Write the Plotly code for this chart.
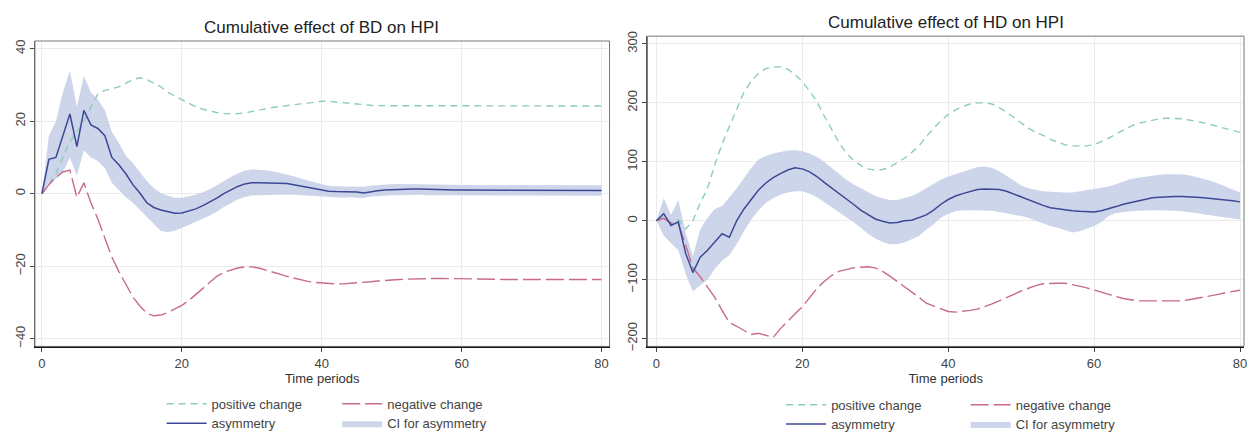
import plotly.graph_objects as go

W, H = 1253, 439

periods = list(range(81))

# ---------- Left panel: BD on HPI ----------
bd_positive = [0, 2.5, 5.5, 10, 14.5, 17, 20, 24, 27.5, 28.5,
               29, 29.5, 30.5, 31.5, 32, 31.5, 30.5, 29.5, 28, 27,
               26, 25, 24, 23.3, 22.8, 22.4, 22.1, 22, 22.1, 22.3,
               22.6, 23, 23.4, 23.8, 24.1, 24.4, 24.6, 24.8, 25, 25.3,
               25.5, 25.5, 25.3, 25, 24.8, 24.7, 24.5, 24.4, 24.3, 24.3,
               24.2, 24.2, 24.2, 24.2, 24.2, 24.2, 24.2, 24.2, 24.2, 24.2,
               24.2, 24.2, 24.2, 24.2, 24.2, 24.2, 24.2, 24.2, 24.2, 24.2,
               24.2, 24.2, 24.2, 24.2, 24.2, 24.2, 24.2, 24.2, 24.2, 24.2, 24.2]
bd_negative = [0, 2.5, 4.5, 6, 6.5, -1, 3, -2.5, -7, -12.5,
               -17.5, -21.5, -25, -28.5, -31, -33, -33.7, -33.5, -32.8, -31.8,
               -30.8, -29.5, -27.8, -26, -24.3, -22.8, -21.7, -21, -20.5, -20.2,
               -20.2, -20.5, -21, -21.6, -22.2, -22.8, -23.3, -23.8, -24.2, -24.5,
               -24.7, -24.8, -24.9, -24.9, -24.8, -24.7, -24.5, -24.3, -24.1, -23.9,
               -23.8, -23.7, -23.6, -23.5, -23.5, -23.4, -23.4, -23.4, -23.4, -23.5,
               -23.5, -23.5, -23.6, -23.6, -23.6, -23.6, -23.7, -23.7, -23.7, -23.7,
               -23.7, -23.7, -23.7, -23.7, -23.7, -23.7, -23.7, -23.7, -23.7, -23.7, -23.7]
bd_asymmetry = [0, 9.5, 10, 16, 22, 13, 23, 19, 18, 16,
                10, 8, 5.5, 2.5, 0.2, -2.5, -3.8, -4.5, -5, -5.4,
                -5.3, -4.8, -4.2, -3.3, -2.3, -1.2, 0, 1, 2, 2.7,
                3, 3, 3, 2.9, 2.9, 2.8, 2.5, 2.1, 1.7, 1.3,
                1, 0.7, 0.6, 0.6, 0.6, 0.5, 0.2, 0.6, 0.8, 1,
                1.1, 1.2, 1.3, 1.3, 1.3, 1.2, 1.2, 1.1, 1.1, 1,
                1, 1, 1, 1, 1, 1, 0.9, 0.9, 0.9, 0.9,
                0.9, 0.9, 0.9, 0.9, 0.9, 0.9, 0.9, 0.9, 0.9, 0.9, 0.9]
bd_ci_low = [0, 3, 4, 6, 10, 5, 12, 10, 9, 7,
             3, 1, -1, -2.5, -4.5, -6.3, -8.5, -10.3, -10.6, -10.2,
             -9.5, -8.7, -7.8, -6.9, -6, -5, -3.7, -2.6, -1.6, -0.9,
             -0.5, -0.4, -0.3, -0.3, -0.2, -0.2, -0.3, -0.4, -0.5, -0.7,
             -0.8, -1, -1.1, -1.1, -1, -1, -1.2, -0.8, -0.6, -0.5,
             -0.4, -0.4, -0.3, -0.3, -0.3, -0.4, -0.4, -0.5, -0.5, -0.5,
             -0.5, -0.5, -0.5, -0.5, -0.5, -0.5, -0.5, -0.5, -0.5, -0.5,
             -0.6, -0.6, -0.6, -0.6, -0.6, -0.6, -0.6, -0.6, -0.6, -0.6, -0.6]
bd_ci_high = [0, 16, 20, 28, 34, 24, 32.5, 28, 26, 23,
              17, 14, 10.5, 8.5, 6, 3.5, 1.5, 0.2, -0.6, -1.1,
              -1.1, -0.8, -0.3, 0.4, 1.2, 2.3, 3.5, 4.6, 5.6, 6.3,
              6.7, 6.7, 6.5, 6.2, 5.8, 5.4, 4.8, 4.2, 3.6, 3.1,
              2.6, 2.2, 2, 2, 2, 2, 1.9, 2.2, 2.4, 2.5,
              2.6, 2.7, 2.7, 2.7, 2.7, 2.6, 2.6, 2.5, 2.5, 2.5,
              2.4, 2.4, 2.4, 2.4, 2.4, 2.4, 2.4, 2.4, 2.4, 2.4,
              2.3, 2.3, 2.3, 2.3, 2.3, 2.3, 2.3, 2.3, 2.3, 2.3, 2.3]

# ---------- Right panel: HD on HPI ----------
hd_positive = [0, 6, -4, 2, -14, 0, 30, 55, 95, 130,
               160, 190, 218, 237, 250, 258, 261, 261, 257, 248,
               236, 220, 202, 178, 155, 133, 115, 103, 94, 88,
               86, 87, 91, 98, 106, 116, 127, 143, 157, 170,
               180, 188, 194, 198, 200, 200, 198, 192, 184, 175,
               165, 157, 150, 145, 138, 133, 129, 127, 127, 127,
               129, 134, 140, 147, 154, 160, 165, 168, 171, 173,
               174, 174, 173, 171, 169, 166, 163, 160, 157, 153, 150]
hd_negative = [0, 4, -4, -5, -41, -80, -95, -112, -130, -152,
               -173, -179, -186, -193, -191, -195, -198, -183, -170, -158,
               -146, -130, -115, -103, -93, -86, -83, -80, -79, -78,
               -80, -86, -94, -103, -112, -120, -130, -140, -145, -150,
               -154, -155, -154, -152, -150, -146, -141, -136, -131, -125,
               -119, -114, -110, -107, -106, -106, -106, -108, -111, -114,
               -117, -121, -125, -129, -132, -134, -136, -136, -136, -136,
               -136, -136, -136, -134, -132, -129, -127, -125, -122, -120, -118]
hd_asymmetry = [0, 12, -8, -2, -55, -88, -62, -50, -36, -22,
                -28, 0, 20, 36, 52, 64, 73, 80, 86, 90,
                88, 83, 75, 65, 56, 47, 38, 28, 18, 10,
                3, -1, -4, -3, 0, 1, 5, 10, 18, 28,
                36, 42, 46, 50, 53, 54, 54, 53, 50, 45,
                40, 35, 30, 26, 22, 20, 18, 17, 16, 15,
                15, 17, 20, 24, 28, 31, 34, 37, 39, 40,
                41, 41, 41, 41, 40, 39, 38, 37, 36, 34, 32]
hd_ci_low = [0, -25, -38, -50, -90, -120, -110, -100, -82, -68,
             -58, -40, -18, 2, 18, 30, 38, 44, 48, 50,
             50, 46, 40, 32, 24, 15, 6, -2, -12, -22,
             -30, -36, -40, -40, -37, -32, -26, -15, -6, 5,
             12, 16, 18, 18, 18, 18, 17, 15, 12, 10,
             8, 5, 0, -5, -9, -12, -16, -20, -18, -13,
             -9, -2, 8, 13, 15, 16, 17, 18, 18, 18,
             18, 17, 16, 15, 13, 11, 9, 7, 5, 3, 2]
hd_ci_high = [0, 38, 10, 35, -20, -60, -15, 5, 20, 25,
              40, 55, 72, 90, 104, 110, 114, 117, 119, 120,
              118, 114, 108, 100, 90, 80, 70, 62, 55, 48,
              42, 38, 35, 35, 38, 42, 48, 55, 62, 70,
              75, 79, 84, 88, 91, 92, 90, 84, 76, 68,
              60, 55, 52, 50, 49, 48, 48, 48, 50, 52,
              54, 56, 58, 62, 67, 71, 73, 75, 77, 78,
              79, 79, 79, 77, 74, 71, 68, 63, 58, 53, 48]

x_ticks = [0, 20, 40, 60, 80]
bd_y_ticks = [-40, -20, 0, 20, 40]
hd_y_ticks = [-200, -100, 0, 100, 200, 300]

titles = ["Cumulative effect of BD on HPI", "Cumulative effect of HD on HPI"]
legend_names = ["positive change", "negative change", "asymmetry", "CI for asymmetry"]

POS_C = "#8ccdb9"
NEG_C = "#c76a8d"
ASYM_C = "#3c4893"
CI_C = "rgba(196,206,232,0.85)"
FONT = "Liberation Sans, Arial, sans-serif"

fig = go.Figure()


def add_panel(xa, ya, pos, neg, asym, lo, hi, leg):
    xk, yk = "x" + xa, "y" + ya
    fig.add_trace(go.Scatter(x=periods, y=lo, xaxis=xk, yaxis=yk, mode="lines",
                             line=dict(width=0, color=CI_C), showlegend=False,
                             hoverinfo="skip"))
    fig.add_trace(go.Scatter(x=periods, y=hi, xaxis=xk, yaxis=yk, mode="lines",
                             fill="tonexty", fillcolor=CI_C,
                             line=dict(width=0, color=CI_C),
                             name=legend_names[3], legend=leg[3]))
    fig.add_trace(go.Scatter(x=periods, y=pos, xaxis=xk, yaxis=yk, mode="lines",
                             line=dict(color=POS_C, width=1.4, dash="7px,5px"),
                             name=legend_names[0], legend=leg[0]))
    fig.add_trace(go.Scatter(x=periods, y=neg, xaxis=xk, yaxis=yk, mode="lines",
                             line=dict(color=NEG_C, width=1.4, dash="18px,5px"),
                             name=legend_names[1], legend=leg[1]))
    fig.add_trace(go.Scatter(x=periods, y=asym, xaxis=xk, yaxis=yk, mode="lines",
                             line=dict(color=ASYM_C, width=1.5),
                             name=legend_names[2], legend=leg[2]))


add_panel("", "", bd_positive, bd_negative, bd_asymmetry, bd_ci_low, bd_ci_high,
          ["legend", "legend2", "legend3", "legend4"])
add_panel("2", "2", hd_positive, hd_negative, hd_asymmetry, hd_ci_low, hd_ci_high,
          ["legend5", "legend6", "legend7", "legend8"])


def px_x(p):
    return p / W


def px_y(p):
    return 1 - p / H


axis_common = dict(showgrid=True, gridcolor="#ebebeb", gridwidth=1, zeroline=False,
                   ticks="outside", ticklen=4, tickcolor="#444",
                   tickfont=dict(family=FONT, size=13, color="#444"))

fig.update_layout(
    width=W, height=H, margin=dict(l=0, r=0, t=0, b=0),
    paper_bgcolor="white", plot_bgcolor="white",
    font=dict(family=FONT),
    xaxis=dict(domain=[px_x(35), px_x(611)], range=[-1.0, 81.14], tickvals=x_ticks,
               showline=True, linecolor="#111", linewidth=2, anchor="y",
               title=dict(text="Time periods", standoff=0,
                          font=dict(family=FONT, size=13, color="#333")),
               **axis_common),
    yaxis=dict(domain=[px_y(351), px_y(37)], range=[-42.15, 42.15], tickvals=bd_y_ticks,
               showline=True, linecolor="#555", linewidth=1, anchor="x", tickangle=-90,
               **axis_common),
    xaxis2=dict(domain=[px_x(649), px_x(1247)], range=[-1.23, 80.55], tickvals=x_ticks,
                showline=True, linecolor="#111", linewidth=2, anchor="y2",
                title=dict(text="Time periods", standoff=0,
                           font=dict(family=FONT, size=13, color="#333")),
                **axis_common),
    yaxis2=dict(domain=[px_y(351), px_y(32)], range=[-213.2, 313.2], tickvals=hd_y_ticks,
                showline=True, linecolor="#555", linewidth=1, anchor="x2", tickangle=-90,
                **axis_common),
)

# frames around plot regions
for xr, yr in [("x domain", "y domain"), ("x2 domain", "y2 domain")]:
    fig.add_shape(type="rect", xref=xr, yref=yr, x0=0, x1=1, y0=0, y1=1,
                  line=dict(color="#777", width=1), layer="above")

# panel titles
fig.add_annotation(text=titles[0], x=px_x(322), y=px_y(23), xref="paper", yref="paper",
                   showarrow=False, xanchor="center", yanchor="middle",
                   font=dict(family=FONT, size=17, color="#222"))
fig.add_annotation(text=titles[1], x=px_x(948), y=px_y(18), xref="paper", yref="paper",
                   showarrow=False, xanchor="center", yanchor="middle",
                   font=dict(family=FONT, size=17, color="#222"))

# legends
leg_style = dict(bgcolor="rgba(0,0,0,0)", borderwidth=0, itemwidth=40,
                 font=dict(family=FONT, size=13, color="#444"),
                 xanchor="left", yanchor="middle", orientation="v")
leg_pos = {
    "legend": (162, 410), "legend2": (338, 410), "legend3": (162, 430), "legend4": (338, 430),
    "legend5": (783, 411), "legend6": (968, 411), "legend7": (783, 431), "legend8": (968, 431),
}
for name, (lx, ly) in leg_pos.items():
    fig.update_layout({name: dict(x=px_x(lx), y=px_y(ly), **leg_style)})

fig.write_html("out.html", config={"displayModeBar": False},
               post_script="document.body.style.margin='0';document.body.style.overflow='hidden';")
